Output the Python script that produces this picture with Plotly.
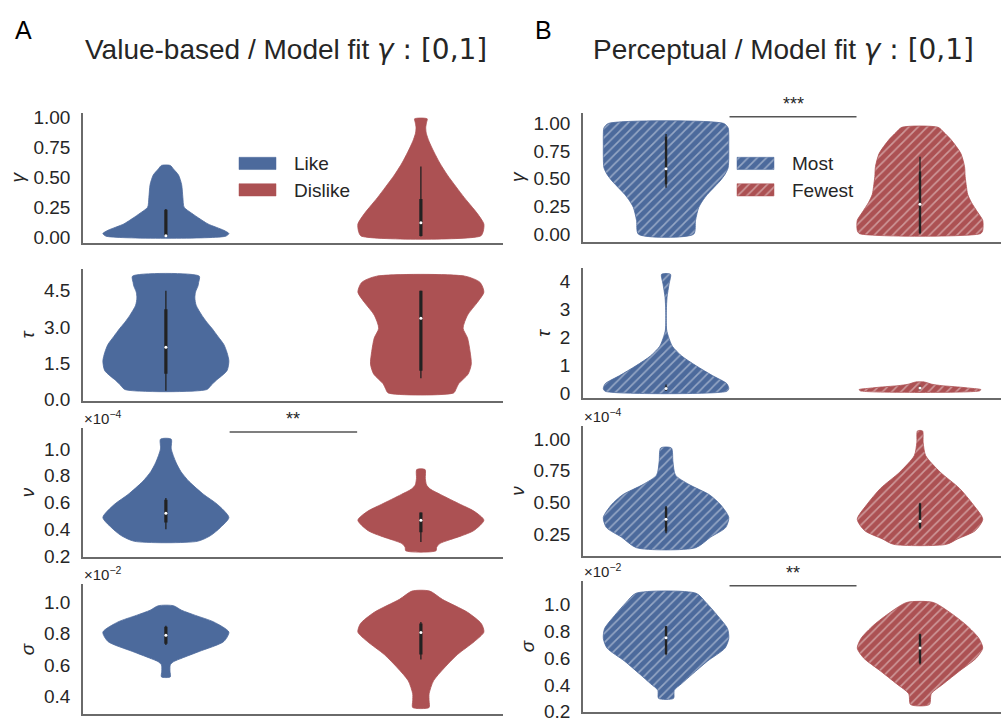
import plotly.graph_objects as go

W, H = 1001, 727
BLUE = "#4C6A9C"
RED = "#AC5153"
INK = "#262626"
SPINE = "#6A6A6A"
FONT = "Liberation Sans, Arial, sans-serif"
MATH_FONT = "DejaVu Sans, sans-serif"

GROUPS_A = ["Like", "Dislike"]
GROUPS_B = ["Most", "Fewest"]
PARAM_LABELS = ["γ", "τ", "ν", "σ"]

# Density profiles: value levels (ascending) and relative half-width (max = 1)
# Box summaries: [whisker low, q1, median, q3, whisker high]

# --- Value-based ---
GAMMA_LIKE_Y = [0.008, 0.03, 0.057, 0.11, 0.16, 0.20, 0.25, 0.33, 0.44, 0.52, 0.57, 0.60]
GAMMA_LIKE_W = [0.95, 1.0, 0.92, 0.67, 0.52, 0.41, 0.29, 0.27, 0.25, 0.20, 0.12, 0.07]
GAMMA_LIKE_BOX = [0.005, 0.008, 0.012, 0.23, 0.235]

GAMMA_DISLIKE_Y = [0.01, 0.05, 0.11, 0.195, 0.26, 0.33, 0.42, 0.52, 0.62, 0.71, 0.80, 0.87, 0.92, 0.96, 0.99]
GAMMA_DISLIKE_W = [0.95, 0.99, 1.0, 0.90, 0.80, 0.69, 0.56, 0.42, 0.30, 0.21, 0.13, 0.085, 0.077, 0.09, 0.10]
GAMMA_DISLIKE_BOX = [0.005, 0.01, 0.12, 0.32, 0.59]

TAU_LIKE_Y = [0.42, 0.6, 0.8, 1.2, 1.6, 1.95, 2.28, 2.6, 2.95, 3.2, 3.49, 3.9, 4.2, 4.44, 4.7, 4.84, 5.1]
TAU_LIKE_W = [0.65, 0.72, 0.80, 0.97, 1.0, 0.97, 0.92, 0.83, 0.73, 0.65, 0.57, 0.48, 0.46, 0.47, 0.51, 0.52, 0.53]
TAU_LIKE_BOX = [0.37, 1.07, 2.17, 3.73, 4.5]

TAU_DISLIKE_Y = [0.28, 0.45, 0.66, 1.06, 1.47, 2.0, 2.55, 2.95, 3.49, 4.03, 4.44, 4.84, 5.1]
TAU_DISLIKE_W = [0.52, 0.56, 0.60, 0.75, 0.80, 0.78, 0.74, 0.67, 0.74, 0.90, 1.0, 0.94, 0.70]
TAU_DISLIKE_BOX = [0.89, 1.2, 3.36, 4.5, 4.5]

NU_LIKE_Y = [0.31, 0.353, 0.415, 0.488, 0.585, 0.66, 0.756, 0.83, 0.90, 1.0, 1.073]
NU_LIKE_W = [0.50, 0.71, 0.87, 1.0, 0.82, 0.60, 0.37, 0.24, 0.16, 0.085, 0.085]
NU_LIKE_BOX = [0.40, 0.45, 0.52, 0.62, 0.634]

NU_DISLIKE_Y = [0.239, 0.265, 0.293, 0.317, 0.35, 0.39, 0.468, 0.536, 0.585, 0.66, 0.70, 0.73, 0.78, 0.846]
NU_DISLIKE_W = [0.24, 0.25, 0.30, 0.43, 0.64, 0.84, 1.0, 0.84, 0.63, 0.31, 0.15, 0.09, 0.07, 0.066]
NU_DISLIKE_BOX = [0.305, 0.378, 0.468, 0.525, 0.525]

SIGMA_LIKE_Y = [0.523, 0.56, 0.60, 0.62, 0.644, 0.686, 0.75, 0.81, 0.875, 0.917, 0.95, 0.979]
SIGMA_LIKE_W = [0.07, 0.065, 0.07, 0.12, 0.26, 0.53, 0.92, 1.0, 0.76, 0.47, 0.25, 0.12]
SIGMA_LIKE_BOX = [0.728, 0.735, 0.79, 0.845, 0.85]

SIGMA_DISLIKE_Y = [0.327, 0.37, 0.415, 0.498, 0.58, 0.666, 0.75, 0.81, 0.864, 0.937, 1.02, 1.073]
SIGMA_DISLIKE_W = [0.13, 0.13, 0.13, 0.20, 0.37, 0.58, 0.85, 1.0, 0.96, 0.74, 0.34, 0.14]
SIGMA_DISLIKE_BOX = [0.634, 0.666, 0.807, 0.865, 0.875]

# --- Perceptual ---
GAMMA_MOST_Y = [0.0, 0.124, 0.24, 0.30, 0.36, 0.42, 0.48, 0.54, 0.60, 0.70, 0.80, 0.90, 0.96, 1.0]
GAMMA_MOST_W = [0.44, 0.47, 0.52, 0.58, 0.66, 0.76, 0.86, 0.94, 0.99, 1.0, 1.0, 1.0, 0.99, 0.92]
GAMMA_MOST_BOX = [0.42, 0.45, 0.59, 0.88, 0.905]

GAMMA_FEWEST_Y = [0.006, 0.035, 0.124, 0.197, 0.286, 0.36, 0.43, 0.52, 0.61, 0.73, 0.85, 0.92, 0.965]
GAMMA_FEWEST_W = [0.97, 1.0, 1.0, 0.92, 0.82, 0.76, 0.74, 0.72, 0.71, 0.65, 0.50, 0.38, 0.29]
GAMMA_FEWEST_BOX = [0.0, 0.01, 0.27, 0.566, 0.70]

TAU_MOST_Y = [0.08, 0.175, 0.35, 0.64, 0.99, 1.34, 1.69, 2.04, 2.27, 2.6, 2.97, 3.44, 3.91, 4.26]
TAU_MOST_W = [0.97, 1.0, 0.97, 0.74, 0.48, 0.25, 0.10, 0.037, 0.01, 0.004, 0.005, 0.016, 0.048, 0.071]
TAU_MOST_BOX = [0.09, 0.12, 0.18, 0.25, 0.32]

TAU_FEWEST_Y = [0.095, 0.14, 0.19, 0.235, 0.28, 0.33, 0.41]
TAU_FEWEST_W = [0.95, 0.97, 0.80, 0.60, 0.35, 0.19, 0.07]
TAU_FEWEST_BOX = [0.12, 0.15, 0.20, 0.24, 0.28]

NU_MOST_Y = [0.14, 0.224, 0.30, 0.38, 0.48, 0.56, 0.64, 0.715, 0.82, 0.93]
NU_MOST_W = [0.47, 0.71, 0.95, 1.0, 0.87, 0.69, 0.37, 0.15, 0.11, 0.085]
NU_MOST_BOX = [0.255, 0.27, 0.366, 0.46, 0.47]

NU_FEWEST_Y = [0.167, 0.21, 0.275, 0.366, 0.48, 0.61, 0.74, 0.87, 0.974, 1.065]
NU_FEWEST_W = [0.42, 0.60, 0.88, 1.0, 0.85, 0.63, 0.32, 0.09, 0.05, 0.04]
NU_FEWEST_BOX = [0.29, 0.30, 0.35, 0.49, 0.496]

SIGMA_MOST_Y = [0.30, 0.36, 0.41, 0.48, 0.576, 0.673, 0.745, 0.818, 0.915, 1.01, 1.08]
SIGMA_MOST_W = [0.12, 0.13, 0.25, 0.42, 0.66, 0.94, 1.0, 0.98, 0.82, 0.64, 0.48]
SIGMA_MOST_BOX = [0.62, 0.63, 0.75, 0.835, 0.838]

SIGMA_FEWEST_Y = [0.254, 0.334, 0.407, 0.503, 0.60, 0.673, 0.745, 0.843, 0.94, 1.012]
SIGMA_FEWEST_W = [0.15, 0.18, 0.37, 0.63, 0.90, 1.0, 0.94, 0.74, 0.47, 0.21]
SIGMA_FEWEST_BOX = [0.552, 0.56, 0.673, 0.775, 0.78]

# Axis ranges and ticks per row
Y_RANGES_A = [[-0.049, 1.041], [-0.04, 5.378], [0.19, 1.158], [0.283, 1.115]]
Y_RANGES_B = [[-0.071, 1.097], [-0.175, 4.468], [0.074, 1.103], [0.2, 1.17]]
TICKS_A = [[0, 0.25, 0.5, 0.75, 1.0], [0, 1.5, 3.0, 4.5], [0.2, 0.4, 0.6, 0.8, 1.0], [0.4, 0.6, 0.8, 1.0]]
TICKS_B = [[0, 0.25, 0.5, 0.75, 1.0], [0, 1, 2, 3, 4], [0.25, 0.5, 0.75, 1.0], [0.2, 0.4, 0.6, 0.8, 1.0]]
FMT_A = [".2f", ".1f", ".1f", ".1f"]
FMT_B = [".2f", "d", ".2f", ".1f"]
EXPONENTS = [None, None, "−4", "−2"]

# Significance markers: (column, row, label, bar height in data units)
SIGNIF = [("A", 3, "**", 1.127), ("B", 1, "***", 1.06), ("B", 4, "**", 1.136)]

PANELS_A = [
    ((GAMMA_LIKE_Y, GAMMA_LIKE_W, GAMMA_LIKE_BOX), (GAMMA_DISLIKE_Y, GAMMA_DISLIKE_W, GAMMA_DISLIKE_BOX)),
    ((TAU_LIKE_Y, TAU_LIKE_W, TAU_LIKE_BOX), (TAU_DISLIKE_Y, TAU_DISLIKE_W, TAU_DISLIKE_BOX)),
    ((NU_LIKE_Y, NU_LIKE_W, NU_LIKE_BOX), (NU_DISLIKE_Y, NU_DISLIKE_W, NU_DISLIKE_BOX)),
    ((SIGMA_LIKE_Y, SIGMA_LIKE_W, SIGMA_LIKE_BOX), (SIGMA_DISLIKE_Y, SIGMA_DISLIKE_W, SIGMA_DISLIKE_BOX)),
]
PANELS_B = [
    ((GAMMA_MOST_Y, GAMMA_MOST_W, GAMMA_MOST_BOX), (GAMMA_FEWEST_Y, GAMMA_FEWEST_W, GAMMA_FEWEST_BOX)),
    ((TAU_MOST_Y, TAU_MOST_W, TAU_MOST_BOX), (TAU_FEWEST_Y, TAU_FEWEST_W, TAU_FEWEST_BOX)),
    ((NU_MOST_Y, NU_MOST_W, NU_MOST_BOX), (NU_FEWEST_Y, NU_FEWEST_W, NU_FEWEST_BOX)),
    ((SIGMA_MOST_Y, SIGMA_MOST_W, SIGMA_MOST_BOX), (SIGMA_FEWEST_Y, SIGMA_FEWEST_W, SIGMA_FEWEST_BOX)),
]

HALF_WIDTH = 0.247          # max violin half-width, in category units
X_RANGE_A = [-0.325, 1.322]
X_RANGE_B = [-0.327, 1.319]

# pixel layout of the panels (left, right) and (top, bottom)
COL_PX = {"A": (83, 503), "B": (583, 1001)}
ROW_PX = {
    "A": [(110, 243), (270, 404), (431.7, 564), (591.7, 724.3)],
    "B": [(110, 242), (269, 401.7), (430, 562.7), (588.3, 721.7)],
}


def xdom(col):
    l, r = COL_PX[col]
    return [l / W, min(r / W, 1.0)]


def ydom(col, row):
    t, b = ROW_PX[col][row]
    return [1 - b / H, 1 - t / H]


fig = go.Figure()


def hatch(color):
    return dict(shape="/", fgcolor="rgba(255,255,255,0.82)", bgcolor=color,
                size=6.5, solidity=0.24)


def add_violin(xa, ya, center, ys, ws, box, color, hatched):
    xs = [center + HALF_WIDTH * w for w in ws] + [center - HALF_WIDTH * w for w in reversed(ws)]
    yy = list(ys) + list(reversed(ys))
    xs.append(xs[0])
    yy.append(yy[0])
    kw = dict(fillpattern=hatch(color)) if hatched else {}
    fig.add_trace(go.Scatter(
        x=xs, y=yy, xaxis=xa, yaxis=ya, mode="lines", fill="toself",
        fillcolor=color, line=dict(color=color, width=0.8, shape="spline", smoothing=0.7),
        hoverinfo="skip", showlegend=False, **kw))
    lo, q1, med, q3, hi = box
    fig.add_trace(go.Scatter(x=[center, center], y=[lo, hi], xaxis=xa, yaxis=ya, mode="lines",
                             line=dict(color="#222222", width=1.3), hoverinfo="skip", showlegend=False))
    fig.add_trace(go.Scatter(x=[center, center], y=[q1, q3], xaxis=xa, yaxis=ya, mode="lines",
                             line=dict(color="#222222", width=3.2 if not hatched else 2.4),
                             hoverinfo="skip", showlegend=False))
    fig.add_trace(go.Scatter(x=[center], y=[med], xaxis=xa, yaxis=ya, mode="markers",
                             marker=dict(color="white", size=3, line=dict(width=0)),
                             hoverinfo="skip", showlegend=False))


layout = dict(
    width=W, height=H, margin=dict(l=0, r=0, t=0, b=0),
    paper_bgcolor="white", plot_bgcolor="rgba(0,0,0,0)", showlegend=False,
    font=dict(family=FONT, color=INK),
)
annotations = []
shapes = []

for ci, (col, panels, yr, ticks, fmts, xr) in enumerate([
        ("A", PANELS_A, Y_RANGES_A, TICKS_A, FMT_A, X_RANGE_A),
        ("B", PANELS_B, Y_RANGES_B, TICKS_B, FMT_B, X_RANGE_B)]):
    for r in range(4):
        idx = ci * 4 + r + 1
        sx = "" if idx == 1 else str(idx)
        xa, ya = "x" + sx, "y" + sx
        layout["xaxis" + sx] = dict(
            domain=xdom(col), anchor=ya, range=xr, showgrid=False, zeroline=False,
            showline=True, linecolor=SPINE, linewidth=1.5, showticklabels=False,
            ticks="", fixedrange=True)
        layout["yaxis" + sx] = dict(
            domain=ydom(col, r), anchor=xa, range=yr[r], showgrid=False, zeroline=False,
            showline=True, linecolor=SPINE, linewidth=1.5, ticks="",
            tickvals=ticks[r], tickformat=fmts[r], ticklabelstandoff=7,
            tickfont=dict(family=FONT, size=19, color=INK),
            title=dict(text="<i>%s</i>" % PARAM_LABELS[r], standoff=4,
                       font=dict(family=FONT, size=19, color=INK)),
            fixedrange=True)
        (ly, lw, lb), (ry, rw, rb) = panels[r]
        hatched = col == "B"
        add_violin(xa, ya, 0, ly, lw, lb, BLUE, hatched)
        add_violin(xa, ya, 1, ry, rw, rb, RED, hatched)
        if EXPONENTS[r]:
            annotations.append(dict(
                text="×10<sup>%s</sup>" % EXPONENTS[r], xref=xa + " domain", yref=ya + " domain",
                x=0.0, y=1.0, xanchor="left", yanchor="bottom", showarrow=False, xshift=-1,
                yshift=-1, font=dict(family=FONT, size=15, color=INK)))

# significance bars
for col, row, label, yv in SIGNIF:
    idx = (0 if col == "A" else 4) + row
    sx = "" if idx == 1 else str(idx)
    shapes.append(dict(type="line", xref="x" + sx, yref="y" + sx, x0=0.25, x1=0.75, y0=yv, y1=yv,
                       line=dict(color="#555555", width=1.5)))
    annotations.append(dict(text=label, xref="x" + sx, yref="y" + sx, x=0.5, y=yv,
                            xanchor="center", yanchor="bottom", showarrow=False, yshift=1,
                            font=dict(family=FONT, size=18, color=INK)))

# overlay axis in pixel units for the legend keys
layout["xaxis9"] = dict(domain=[0, 1], anchor="y9", range=[0, W], visible=False, fixedrange=True)
layout["yaxis9"] = dict(domain=[0, 1], anchor="x9", range=[H, 0], visible=False, fixedrange=True)

LEGEND_KEYS = [
    ("A", GROUPS_A, 239, 292, False),
    ("B", GROUPS_B, 737, 790, True),
]
for col, names, kx, tx, hatched in LEGEND_KEYS:
    for k, (name, color) in enumerate(zip(names, [BLUE, RED])):
        top = 155.5 + k * 27
        kw = dict(fillpattern=hatch(color)) if hatched else {}
        fig.add_trace(go.Scatter(
            x=[kx, kx + 37, kx + 37, kx, kx], y=[top, top, top + 12.5, top + 12.5, top],
            xaxis="x9", yaxis="y9", mode="lines", fill="toself", fillcolor=color,
            line=dict(color=color, width=0.5), hoverinfo="skip", showlegend=False, **kw))
        annotations.append(dict(text=name, xref="x9", yref="y9", x=tx, y=top + 6.5,
                                xanchor="left", yanchor="middle", showarrow=False,
                                font=dict(family=FONT, size=19, color=INK)))

# titles and panel letters
MATH_PART = "<span style='font-family:%s'><i>γ</i> : [0,1]</span>" % MATH_FONT
annotations += [
    dict(text="A", xref="paper", yref="paper", x=23 / W, y=1 - 26 / H, xanchor="center",
         yanchor="middle", showarrow=False, font=dict(family=FONT, size=25, color="black")),
    dict(text="B", xref="paper", yref="paper", x=543 / W, y=1 - 26 / H, xanchor="center",
         yanchor="middle", showarrow=False, font=dict(family=FONT, size=25, color="black")),
    dict(text="Value-based / Model fit " + MATH_PART, xref="paper", yref="paper",
         x=286 / W, y=1 - 45 / H, xanchor="center", yanchor="middle", showarrow=False,
         font=dict(family=FONT, size=28, color=INK)),
    dict(text="Perceptual / Model fit " + MATH_PART, xref="paper", yref="paper",
         x=783 / W, y=1 - 45 / H, xanchor="center", yanchor="middle", showarrow=False,
         font=dict(family=FONT, size=28, color=INK)),
]

layout["annotations"] = annotations
layout["shapes"] = shapes
fig.update_layout(**layout)
fig.write_html("out.html")
